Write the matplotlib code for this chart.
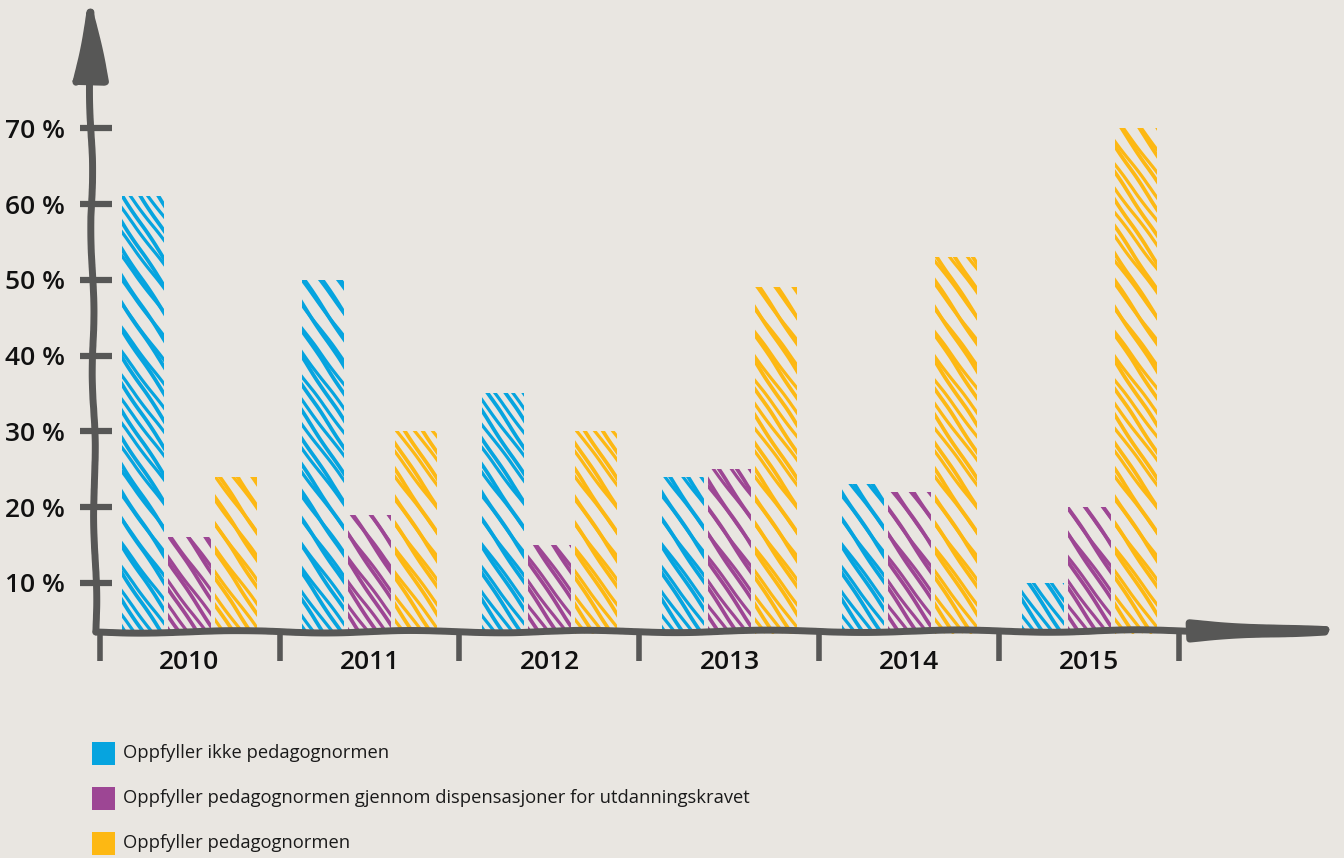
#!/usr/bin/env python3
import matplotlib

matplotlib.use("Agg")
import matplotlib.pyplot as plt
import numpy as np
from matplotlib.collections import LineCollection
from matplotlib.patches import Rectangle


YEARS = ["2010", "2011", "2012", "2013", "2014", "2015"]
SERIES_LABELS = [
    "Oppfyller ikke pedagognormen",
    "Oppfyller pedagognormen gjennom dispensasjoner for utdanningskravet",
    "Oppfyller pedagognormen",
]
IKKE = [61, 50, 35, 24, 23, 10]
DISPENSASJON = [16, 19, 15, 25, 22, 20]
OPPFYLLER = [24, 30, 30, 49, 53, 70]
Y_TICKS = [10, 20, 30, 40, 50, 60, 70]

COLORS = ["#06A4DF", "#9D4694", "#FDB813"]
BACKGROUND = "#E9E6E1"
AXIS_GRAY = "#575756"
FONT = ["Open Sans", "DejaVu Sans"]

AX_W_PX = 1334.3 - 95.9
AX_H_PX = 632 - 10


def scribble_segments(slope, spacing_px, phase_px):
    # steep strokes over the whole axes, later clipped to each bar
    drop = AX_H_PX / slope / AX_W_PX
    starts = np.arange(-drop - 0.02, 1.02, spacing_px / AX_W_PX) + phase_px / AX_W_PX
    return [[(x0, 1.0), (x0 + drop, 0.0)] for x0 in starts]


def draw_bars(ax):
    series = [IKKE, DISPENSASJON, OPPFYLLER]
    width = 0.235
    offsets = [-0.26, 0.0, 0.26]
    positions = list(range(len(YEARS)))
    stroke_sets = [scribble_segments(1.5, 18, 0), scribble_segments(1.33, 18, 9)]
    for values, color, offset in zip(series, COLORS, offsets):
        bars = ax.bar(
            [p + offset for p in positions],
            values,
            width=width,
            facecolor="none",
            edgecolor="none",
            linewidth=0,
        )
        for bar in bars:
            for segs, lw in zip(stroke_sets, [2.7, 2.3]):
                lc = LineCollection(segs, transform=ax.transAxes, colors=color,
                                    linewidths=lw, capstyle="round")
                ax.add_collection(lc, autolim=False)
                lc.set_clip_path(bar)
                lc.set_sketch_params(scale=0.4, length=80, randomness=2)


def draw_axes(ax):
    ax.set_xlim(-0.52, 6.36)
    ax.set_ylim(3.53, 85.6)
    ax.set_facecolor("none")

    for side in ["top", "right", "left", "bottom"]:
        ax.spines[side].set_visible(False)

    # hand drawn looking axis lines with arrow heads
    arrow_y = dict(arrowstyle="-|>,head_length=3.6,head_width=0.75", lw=5,
                   color=AXIS_GRAY, shrinkA=0, shrinkB=0, mutation_scale=14)
    arrow_x = dict(arrowstyle="-|>,head_length=7.0,head_width=0.42", lw=5,
                   color=AXIS_GRAY, shrinkA=0, shrinkB=0, mutation_scale=14)
    ya = ax.annotate("", xy=(-0.005, 1.024), xycoords="axes fraction", xytext=(0, 0),
                     textcoords="axes fraction", arrowprops=arrow_y, annotation_clip=False)
    xa = ax.annotate("", xy=(1.04, 0.002), xycoords="axes fraction", xytext=(0, 0),
                     textcoords="axes fraction", arrowprops=arrow_x, annotation_clip=False)
    ya.arrow_patch.set_sketch_params(scale=1.2, length=160, randomness=2)
    xa.arrow_patch.set_sketch_params(scale=1.2, length=200, randomness=2)

    ax.set_yticks(Y_TICKS, [f"{v} %" for v in Y_TICKS])
    ax.tick_params(axis="y", direction="inout", length=23, width=4.5,
                   color=AXIS_GRAY, pad=11, labelsize=19)

    ax.set_xticks(range(len(YEARS)), YEARS)
    ax.tick_params(axis="x", which="major", length=0, pad=13, labelsize=19)
    ax.set_xticks([p - 0.5 for p in range(len(YEARS) + 1)], minor=True)
    ax.tick_params(axis="x", which="minor", direction="out", length=21,
                   width=4, color=AXIS_GRAY)

    for label in ax.get_xticklabels() + ax.get_yticklabels():
        label.set_family(FONT)
        label.set_fontweight("semibold")
        label.set_color("#111111")
    for tick in ax.yaxis.get_major_ticks() + ax.xaxis.get_minor_ticks():
        tick.tick1line.set_sketch_params(scale=1.0, length=30, randomness=3)


def draw_legend(fig):
    rows = [1 - 753 / 858, 1 - 798 / 858, 1 - 843 / 858]
    box_w = 23 / 1344
    box_h = 23 / 858
    for label, color, y in zip(SERIES_LABELS, COLORS, rows):
        fig.patches.append(
            Rectangle((92 / 1344, y - box_h / 2), box_w, box_h,
                      transform=fig.transFigure, facecolor=color, edgecolor="none")
        )
        fig.text(123 / 1344, y, label, ha="left", va="center",
                 fontsize=13.2, family=FONT, color="#1A1A1A")


def main():
    fig = plt.figure(figsize=(13.44, 8.58), dpi=100, facecolor=BACKGROUND)
    ax = fig.add_axes([95.9 / 1344, 1 - 632 / 858, AX_W_PX / 1344, AX_H_PX / 858])
    draw_bars(ax)
    draw_axes(ax)
    draw_legend(fig)
    fig.savefig("out.png", dpi=100, facecolor=BACKGROUND)


if __name__ == "__main__":
    main()
